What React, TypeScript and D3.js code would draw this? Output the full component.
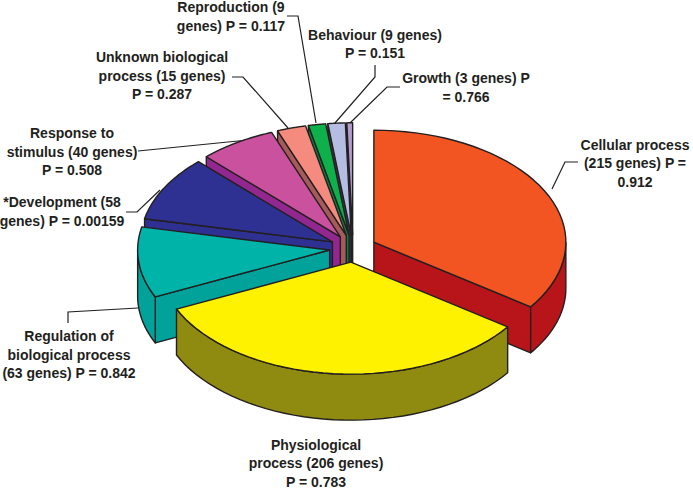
import React from 'react';
import * as d3 from 'd3';

const categories = ['Cellular process', 'Physiological process', 'Regulation of biological process', 'Development', 'Response to stimulus', 'Unknown biological process', 'Reproduction', 'Behaviour', 'Growth'];
const genes = [215, 206, 63, 58, 40, 15, 9, 9, 3];
const topColors = ['#f25522', '#fff200', '#00b3a8', '#2e3192', '#c9519e', '#f58a7e', '#0db04b', '#b5bde3', '#b39bcb'];
const wallColors = ['#b8151b', '#8f8a10', '#00a29a', '#2e3192', '#92278f', '#a65a5a', '#0a7f42', '#3a3a55', '#5f5575'];
// drawn back to front
const paintOrder = [8, 7, 6, 5, 4, 3, 2, 0, 1];

// text blocks: lines, centre x, first baseline
const labels = [
  { lines: ['Cellular process', '(215 genes) P =', '0.912'], x: 635, y: 149.5 },
  { lines: ['Physiological', 'process (206 genes)', 'P = 0.783'], x: 316, y: 449.5 },
  { lines: ['Regulation of', 'biological process', '(63 genes) P = 0.842'], x: 69, y: 341 },
  { lines: ['*Development (58', 'genes) P = 0.00159'], x: 62, y: 207 },
  { lines: ['Response to', 'stimulus (40 genes)', 'P = 0.508'], x: 72, y: 138 },
  { lines: ['Unknown biological', 'process (15 genes)', 'P = 0.287'], x: 162, y: 62 },
  { lines: ['Reproduction (9', 'genes) P = 0.117'], x: 231, y: 12 },
  { lines: ['Behaviour (9 genes)', 'P = 0.151'], x: 375, y: 39.5 },
  { lines: ['Growth (3 genes) P', '= 0.766'], x: 466, y: 83 },
];
const leaders = [
  [[578, 162], [565, 162], [552, 189]],
  [],
  [[68, 323], [68, 312], [138, 308]],
  [[126, 212], [137, 212], [160, 190]],
  [[138, 151], [248, 140]],
  [[232, 77], [243, 77], [288, 128]],
  [[287, 16], [298, 16], [316, 123]],
  [[375, 65], [375, 77], [335, 123]],
  [[400, 87], [387, 87], [350, 123]],
];

const width = 693;
const height = 492;
const cx = 353;
const cy = 248.5;
const rx = 192;
const ry = 112;
const depth = 46;
const explode = 23.5;
const stroke = '#231f20';

export default function App() {
  const pie = d3.pie<number>().sort(null).startAngle(0).endAngle(2 * Math.PI);
  const arcs = pie(genes);
  const xs = d3.scaleLinear().domain([-1, 1]).range([-rx, rx]);
  const ys = d3.scaleLinear().domain([-1, 1]).range([-ry, ry]);

  const rimPath = (ax: number, ay: number, a0: number, a1: number, dy = 0) => {
    const steps = d3.range(0, 41).map(i => a0 + ((a1 - a0) * i) / 40);
    return steps.map(a => [ax + xs(Math.sin(a)), ay - ys(Math.cos(a)) + dy]);
  };
  const line = d3.line();

  return (
    <svg width={width} height={height} style={{ position: 'absolute', left: 0, top: 0 }}>
      <rect width={width} height={height} fill="#fff" />
      {leaders.map((pts, i) => pts.length > 0 && (
        <path key={i} d={line(pts as [number, number][]) ?? ''} fill="none" stroke={stroke} strokeWidth={1.2} />
      ))}
      {paintOrder.map(i => {
        const { startAngle: a0, endAngle: a1 } = arcs[i];
        const mid = (a0 + a1) / 2;
        const ax = cx + (explode * Math.sin(mid));
        const ay = cy - (explode * Math.cos(mid) * ry) / rx;
        const top = [[ax, ay], ...rimPath(ax, ay, a0, a1)] as [number, number][];
        const walls: [number, number][][] = [];
        if (Math.sin(a0) < 0) {
          const p = rimPath(ax, ay, a0, a0)[0];
          walls.push([[ax, ay], [p[0], p[1]], [p[0], p[1] + depth], [ax, ay + depth]]);
        }
        if (Math.sin(a1) > 0) {
          const p = rimPath(ax, ay, a1, a1)[0];
          walls.push([[ax, ay], [p[0], p[1]], [p[0], p[1] + depth], [ax, ay + depth]]);
        }
        const r0 = Math.max(a0, Math.PI / 2);
        const r1 = Math.min(a1, (3 * Math.PI) / 2);
        if (r1 > r0) {
          walls.push([...rimPath(ax, ay, r0, r1), ...rimPath(ax, ay, r0, r1, depth).reverse()] as [number, number][]);
        }
        return (
          <g key={categories[i]} stroke={stroke} strokeWidth={1.4} strokeLinejoin="round">
            {walls.map((w, k) => (
              <path key={k} d={(line(w) ?? '') + 'Z'} fill={wallColors[i]} />
            ))}
            <path d={(line(top) ?? '') + 'Z'} fill={topColors[i]} />
          </g>
        );
      })}
      {labels.map((l, i) => (
        <text key={i} textAnchor="middle" fontFamily="Liberation Sans" fontWeight="bold" fontSize={14} fill={stroke}>
          {l.lines.map((t, k) => (
            <tspan key={k} x={l.x} y={l.y + k * 18.5}>{t}</tspan>
          ))}
        </text>
      ))}
    </svg>
  );
}
